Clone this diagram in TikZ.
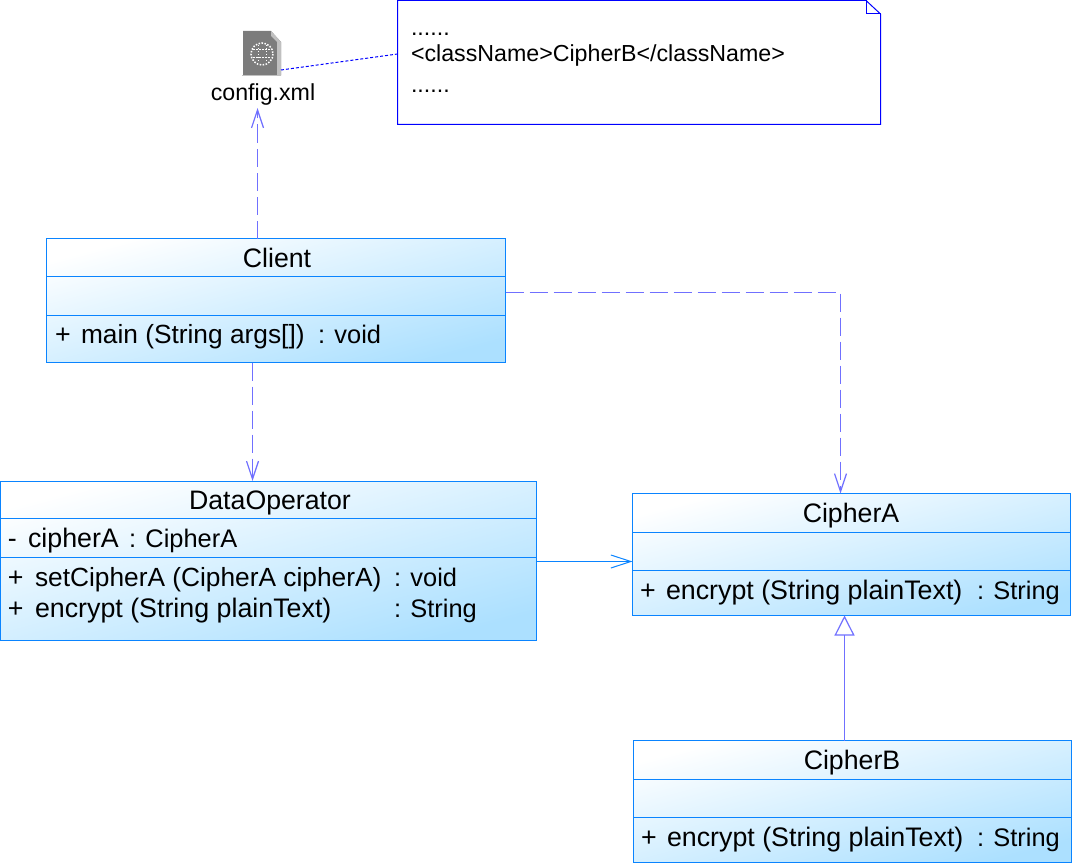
\documentclass[tikz,border=0pt]{standalone}
\usepackage{fontspec}
\setmainfont{Liberation Sans}
\usepackage{tikz}
\usetikzlibrary{arrows.meta,positioning}
\definecolor{boxblue}{HTML}{0A84FF}
\definecolor{linkblue}{HTML}{7070FF}
\definecolor{boxfill}{HTML}{ACE0FF}
\definecolor{notecolor}{HTML}{0000FF}
\definecolor{icongray}{HTML}{7C7C7C}
\definecolor{iconfold}{HTML}{C0C0C0}

\begin{document}
\begin{tikzpicture}[
      x=1pt,y=-1pt,
      classbox/.style={
         draw=boxblue,
         line width=1pt,
         top color=white,
         bottom color=boxfill,
         shading angle=15,
         anchor=north west,
         inner sep=0pt,
         outer sep=0pt},
      divider/.style={draw=boxblue,line width=1pt},
      txt/.style={anchor=base west,inner sep=0pt,outer sep=0pt,font=\fontsize{26.8}{30}\selectfont},
      sigtxt/.style={txt,font=\fontsize{26.3}{30}\selectfont},
      typetxt/.style={txt,font=\fontsize{25.4}{30}\selectfont},
      title/.style={anchor=base,inner sep=0pt,outer sep=0pt,font=\fontsize{26.7}{30}\selectfont},
      notetxt/.style={anchor=base west,inner sep=0pt,outer sep=0pt,font=\fontsize{23.2}{27}\selectfont},
      uses/.style={draw=linkblue,line width=1.2pt,dash pattern=on 18pt off 6pt,-{Straight Barb[length=18pt,width=12pt]}},
      assoc/.style={draw=boxblue,line width=1pt,-{Straight Barb[length=20pt,width=13pt]}},
      inherit/.style={draw=linkblue,line width=1.2pt,-{Triangle[open,length=20pt,width=20pt,fill=white]}},
      notelink/.style={draw=notecolor,line width=1pt,dash pattern=on 3pt off 2pt}
      ]
      \useasboundingbox (0,0) rectangle (1073,864);

      % class boxes
      \node[classbox,minimum width=459pt,minimum height=124pt] (client) at (46.5,238.5) {};
      \node[classbox,minimum width=536pt,minimum height=159pt] (dataop) at (0.5,481) {};
      \node[classbox,minimum width=438pt,minimum height=122pt] (ciphera) at (632.5,493.5) {};
      \node[classbox,minimum width=438pt,minimum height=122pt] (cipherb) at (633.5,740.5) {};

      % compartments: box/offset from top
      \foreach \b/\d in {client/38,client/77,dataop/37.5,dataop/76.5,ciphera/39,ciphera/77,cipherb/38.5,cipherb/76.5}
        \draw[divider] ([yshift=-\d pt]\b.north west) -- ([yshift=-\d pt]\b.north east);

      % note with folded corner
      \draw[draw=notecolor,line width=1pt,fill=white] (397.5,0.5) -- (866,0.5) -- (880.5,14) -- (880.5,124.5) -- (397.5,124.5) -- cycle;
      \draw[draw=notecolor,line width=1pt] (866,0.5) -- (866,14) -- (880.5,14);
      \coordinate (notedge) at (397.5,54);

      % config.xml icon
      \fill[icongray] (243,31) -- (271,31) -- (281,42) -- (281,75) -- (243,75) -- cycle;
      \fill[iconfold] (271,31) -- (281,42) -- (281,76) -- (277,76) -- (277,42) -- (271,36) -- cycle;
      \fill[iconfold] (242,75) rectangle (281,76.5);
      \draw[white,line width=1.5pt,dash pattern=on 1.5pt off 1.5pt] (262,54) circle (11);
      \draw[white,line width=1pt,dash pattern=on 1.5pt off 1.5pt] (253,50) -- (271,50) (253,58) -- (271,58) (258,45) -- (258,63) (266,45) -- (266,63);
      \coordinate (iconedge) at (281,70);
      \coordinate (configin) at (257.5,108);

      % all the text: name/x/y/text
      \foreach \n/\x/\y/\t in {
        tclient/277/267.5/Client,
        tdata/270/509/DataOperator,
        tciphera/851/522.5/CipherA,
        tcipherb/852/769.5/CipherB}
        \node[title] (\n) at (\x,\y) {\t};

      \foreach \n/\x/\y/\t in {
        c1/55/343.5/+,
        d1/8/547.5/-,
        d2/28/547.5/cipherA,
        d4/8/586.5/+,
        d7/8/617.5/+,
        d8/35/617.5/{encrypt (String plainText)},
        a1/640/599.5/+,
        a2/666/599.5/{encrypt (String plainText)},
        b1/641/846.5/+,
        b2/667/846.5/{encrypt (String plainText)}}
        \node[txt] (\n) at (\x,\y) {\t};

      \foreach \n/\x/\y/\t in {
        c2/81/343.5/{main (String args[])},
        d5/35/586.5/{setCipherA (CipherA cipherA)}}
        \node[sigtxt] (\n) at (\x,\y) {\t};

      \foreach \n/\x/\y/\t in {
        c3/318/343.5/{: void},
        d3/129/547.5/{: CipherA},
        d6/394/586.5/{: void},
        d9/394/617.5/{: String},
        a3/977/599.5/{: String},
        b3/977/846.5/{: String}}
        \node[typetxt] (\n) at (\x,\y) {\t};

      \foreach \n/\y/\t in {
        n1/36/{......},
        n2/62/{<className>CipherB</className>},
        n3/93/{......}}
        \node[notetxt] (\n) at (411,\y) {\t};

      \node[notetxt,anchor=base] (config) at (263,101) {config.xml};

      % connectors
      \draw[uses] ([xshift=211pt]client.north west) -- (configin);
      \draw[uses] ([xshift=206pt]client.south west) -- ([xshift=252pt]dataop.north west);
      \draw[uses] ([yshift=-54pt]client.north east) -- ++(335,0) -- ([xshift=208pt]ciphera.north west);
      \draw[assoc] ([yshift=-80.5pt]dataop.north east) -- ([yshift=-68pt]ciphera.north west);
      \draw[inherit] ([xshift=211pt]cipherb.north west) -- ([xshift=212pt]ciphera.south west);
      \draw[notelink] (iconedge) -- (notedge);
    \end{tikzpicture}
\end{document}
